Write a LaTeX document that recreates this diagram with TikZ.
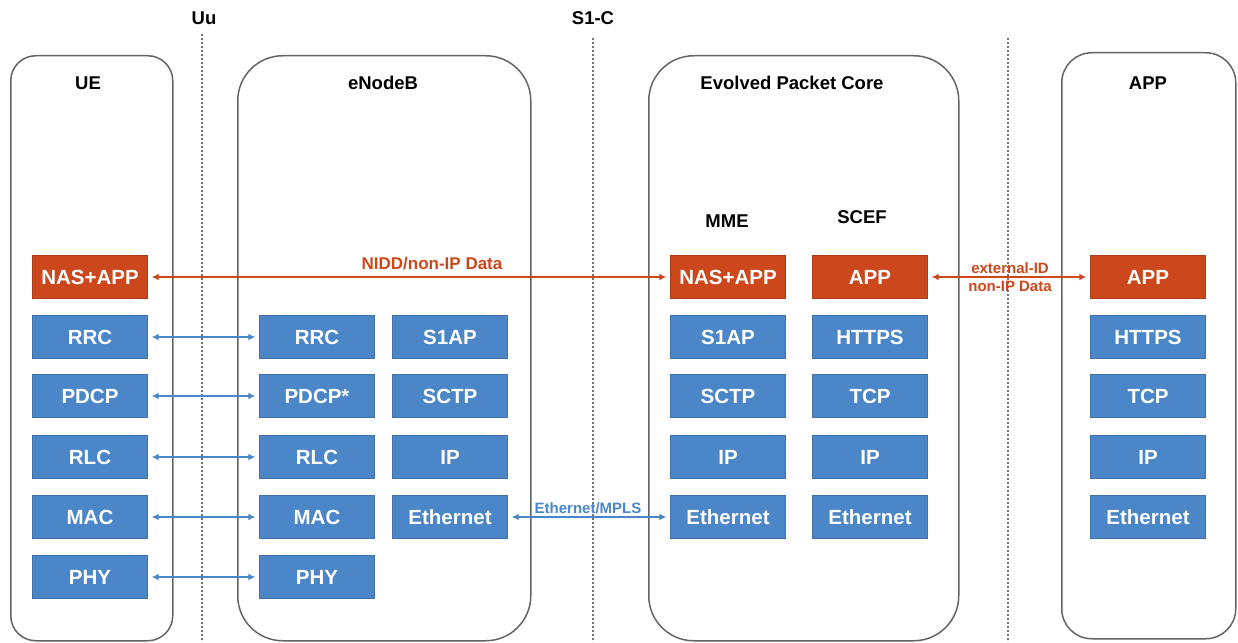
\documentclass[tikz,border=0pt]{standalone}
\usepackage{fontspec}
\setmainfont{Liberation Sans}
\usetikzlibrary{arrows.meta}
\definecolor{layerblue}{RGB}{74,134,200}
\definecolor{layerred}{RGB}{204,72,28}
\definecolor{framegray}{RGB}{100,100,100}
\definecolor{dotgray}{RGB}{115,115,115}
\begin{document}
\begin{tikzpicture}[x=1pt,y=-1pt,
  container/.style={draw=framegray,line width=1.5pt,rounded corners=#1,
    minimum height=585pt,inner sep=0pt,anchor=north west},
  heading/.style={font=\bfseries\fontsize{18.5}{20}\selectfont,text=black},
  layer/.style={fill=layerblue,draw=layerblue!85!black,line width=0.4pt,
    minimum width=115pt,minimum height=43pt,inner sep=0pt,text=white,
    font=\bfseries\fontsize{20.5}{22}\selectfont},
  redlayer/.style={layer,fill=layerred,draw=layerred!85!black},
  divider/.style={draw=dotgray,line width=1.5pt,dash pattern=on 2pt off 2pt},
  bluelink/.style={draw=layerblue,line width=2pt,
    {Latex[length=7pt,width=7pt]}-{Latex[length=7pt,width=7pt]},
    shorten <=4pt,shorten >=4pt},
  redlink/.style={draw=layerred,line width=2pt,
    {Latex[length=7pt,width=7pt]}-{Latex[length=7pt,width=7pt]},
    shorten <=4pt,shorten >=4pt},
  linklabel/.style={font=\bfseries\fontsize{15}{17}\selectfont,inner sep=1pt}
]
\useasboundingbox (0,0) rectangle (1238,642);

% interface dividers
\coordinate (uuTop) at (202,34);   \coordinate (uuBot) at (202,642);
\coordinate (s1Top) at (593,38);   \coordinate (s1Bot) at (593,642);
\coordinate (sgTop) at (1008,38);  \coordinate (sgBot) at (1008,642);
\draw[divider] (uuTop) -- (uuBot);
\draw[divider] (s1Top) -- (s1Bot);
\draw[divider] (sgTop) -- (sgBot);
\node[heading] (uu) at (204,18) {Uu};
\node[heading] (s1c) at (593,18) {S1-C};

% network elements
\node[container=25pt,minimum width=162pt] (ue)  at (10,55)  {};
\node[container=45pt,minimum width=293pt] (enb) at (237,55) {};
\node[container=45pt,minimum width=310pt] (epc) at (648,55) {};
\node[container=30pt,minimum width=174pt,minimum height=586pt] (app) at (1061,52) {};

\node[heading] (ueT)  at (88,83)   {UE};
\node[heading] (enbT) at (383,83)  {eNodeB};
\node[heading] (epcT) at (792,83)  {Evolved Packet Core};
\node[heading] (appT) at (1148,83) {APP};
\node[heading] (mmeT) at (727,221) {MME};
\node[heading] (scefT) at (862,217) {SCEF};

% UE stack
\node[redlayer] (ueNas) at (90,277) {NAS+APP};
\node[layer] (ueRrc)  at (90,337) {RRC};
\node[layer] (uePdcp) at (90,396) {PDCP};
\node[layer] (ueRlc)  at (90,457) {RLC};
\node[layer] (ueMac)  at (90,517) {MAC};
\node[layer] (uePhy)  at (90,577) {PHY};

% eNodeB stacks
\node[layer] (enbRrc)  at (317,337) {RRC};
\node[layer] (enbPdcp) at (317,396) {PDCP*};
\node[layer] (enbRlc)  at (317,457) {RLC};
\node[layer] (enbMac)  at (317,517) {MAC};
\node[layer] (enbPhy)  at (317,577) {PHY};
\node[layer] (enbS1ap) at (450,337) {S1AP};
\node[layer] (enbSctp) at (450,396) {SCTP};
\node[layer] (enbIp)   at (450,457) {IP};
\node[layer] (enbEth)  at (450,517) {Ethernet};

% MME stack
\node[redlayer] (mmeNas) at (728,277) {NAS+APP};
\node[layer] (mmeS1ap) at (728,337) {S1AP};
\node[layer] (mmeSctp) at (728,396) {SCTP};
\node[layer] (mmeIp)   at (728,457) {IP};
\node[layer] (mmeEth)  at (728,517) {Ethernet};

% SCEF stack
\node[redlayer] (scefApp) at (870,277) {APP};
\node[layer] (scefHttps) at (870,337) {HTTPS};
\node[layer] (scefTcp)   at (870,396) {TCP};
\node[layer] (scefIp)    at (870,457) {IP};
\node[layer] (scefEth)   at (870,517) {Ethernet};

% application server stack
\node[redlayer] (asApp) at (1148,277) {APP};
\node[layer] (asHttps) at (1148,337) {HTTPS};
\node[layer] (asTcp)   at (1148,396) {TCP};
\node[layer] (asIp)    at (1148,457) {IP};
\node[layer] (asEth)   at (1148,517) {Ethernet};

% radio peer links
\draw[bluelink] (ueRrc.east)  -- (enbRrc.west);
\draw[bluelink] (uePdcp.east) -- (enbPdcp.west);
\draw[bluelink] (ueRlc.east)  -- (enbRlc.west);
\draw[bluelink] (ueMac.east)  -- (enbMac.west);
\draw[bluelink] (uePhy.east)  -- (enbPhy.west);

% transport link
\draw[bluelink] (enbEth.east) -- node[linklabel,text=layerblue,above=1pt,xshift=-1pt] (ethLbl) {Ethernet/MPLS} (mmeEth.west);

% non-IP data paths
\draw[redlink] (ueNas.east) -- (mmeNas.west);
\node[linklabel,text=layerred,font=\bfseries\fontsize{17}{19}\selectfont] (niddLbl) at (432,264) {NIDD/non-IP Data};
\draw[redlink] (scefApp.east) -- (asApp.west);
\node[linklabel,text=layerred,align=center,font=\bfseries\fontsize{15}{18}\selectfont] (extLbl) at (1010,277) {external-ID\\non-IP Data};
\end{tikzpicture}
\end{document}
